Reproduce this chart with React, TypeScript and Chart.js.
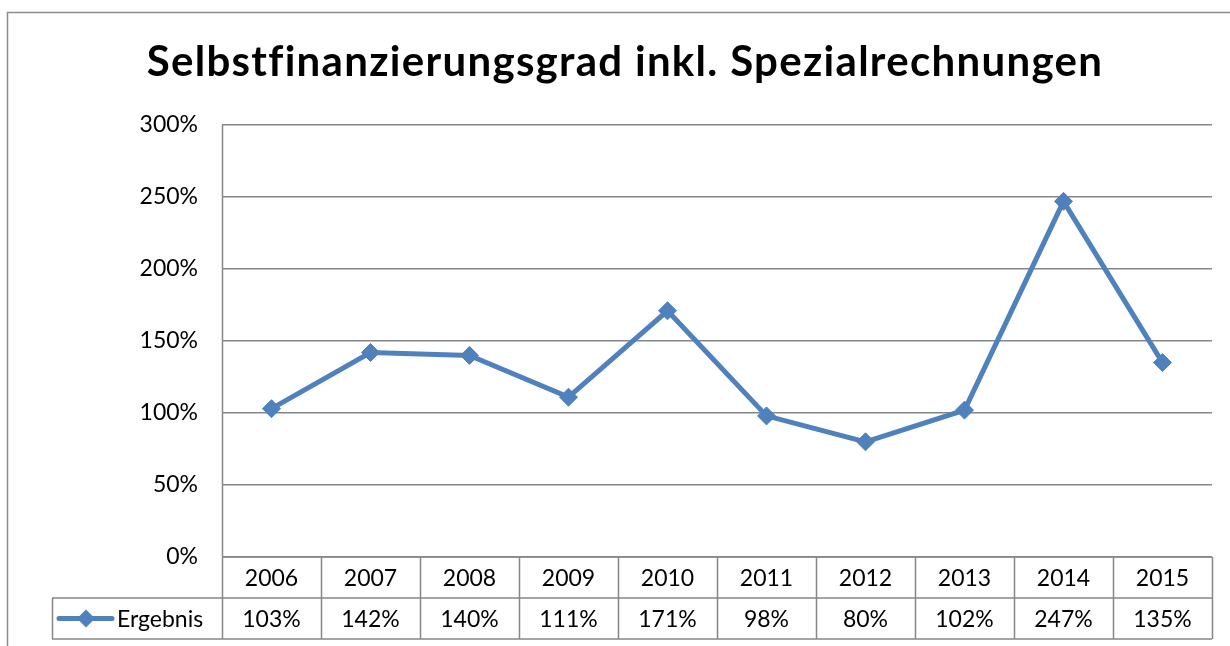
import React, { useEffect, useRef } from "react";
import { Chart, registerables } from "chart.js";

Chart.register(...registerables);

const TITLE = "Selbstfinanzierungsgrad inkl. Spezialrechnungen";
const SERIES_NAME = "Ergebnis";
const YEARS = ["2006", "2007", "2008", "2009", "2010", "2011", "2012", "2013", "2014", "2015"];
const VALUES = [103, 142, 140, 111, 171, 98, 80, 102, 247, 135];
const Y_MIN = 0;
const Y_MAX = 300;
const Y_STEP = 50;

const LINE_COLOR = "#4F81BD";
const GRID_COLOR = "#868686";
const FONT = "Lato, 'DejaVu Sans', sans-serif";

const framePlugin = {
  id: "frame",
  beforeDraw(chart: any) {
    const ctx = chart.ctx;
    ctx.save();
    ctx.fillStyle = "#ffffff";
    ctx.fillRect(0, 0, chart.width, chart.height);
    ctx.strokeStyle = "#8c8c8c";
    ctx.lineWidth = 1.5;
    ctx.beginPath();
    ctx.moveTo(7.5, chart.height);
    ctx.lineTo(7.5, 12.5);
    ctx.lineTo(chart.width, 12.5);
    ctx.stroke();
    // title
    ctx.fillStyle = "#000000";
    ctx.font = `bold 42px ${FONT}`;
    try {
      (ctx as any).letterSpacing = "1.3px";
    } catch (e) {}
    ctx.textAlign = "center";
    ctx.textBaseline = "alphabetic";
    ctx.fillText(TITLE, 625, 76);
    ctx.restore();
  },
};

const tablePlugin = {
  id: "dataTable",
  afterDatasetsDraw(chart: any) {
    const ctx = chart.ctx;
    const area = chart.chartArea;
    const xs = chart.scales.x;
    const n = YEARS.length;
    const w = (area.right - area.left) / n;
    const top = area.bottom;
    const row1 = top + 41;
    const row2 = row1 + 41;
    const legendLeft = 52;
    ctx.save();
    ctx.strokeStyle = GRID_COLOR;
    ctx.lineWidth = 1.5;
    ctx.beginPath();
    for (let i = 0; i <= n; i++) {
      const x = Math.round(area.left + i * w) + 0.5;
      ctx.moveTo(x, i === 0 ? area.top : top);
      ctx.lineTo(x, row2);
    }
    ctx.moveTo(area.left, top);
    ctx.lineTo(area.right, top);
    ctx.moveTo(legendLeft, row1);
    ctx.lineTo(area.right, row1);
    ctx.moveTo(legendLeft, row2);
    ctx.lineTo(area.right, row2);
    ctx.moveTo(legendLeft + 0.5, row1);
    ctx.lineTo(legendLeft + 0.5, row2);
    ctx.stroke();

    ctx.fillStyle = "#000000";
    ctx.font = `23px ${FONT}`;
    ctx.textAlign = "center";
    ctx.textBaseline = "middle";
    for (let i = 0; i < n; i++) {
      const cx = xs.getPixelForValue(i);
      ctx.fillText(YEARS[i], cx, (top + row1) / 2 + 1);
      ctx.fillText(VALUES[i] + "%", cx, (row1 + row2) / 2 + 1);
    }
    // legend
    const ly = (row1 + row2) / 2;
    ctx.strokeStyle = LINE_COLOR;
    ctx.lineWidth = 5;
    ctx.lineCap = "round";
    ctx.beginPath();
    ctx.moveTo(59, ly);
    ctx.lineTo(112, ly);
    ctx.stroke();
    ctx.fillStyle = LINE_COLOR;
    ctx.beginPath();
    ctx.moveTo(86, ly - 9);
    ctx.lineTo(95, ly);
    ctx.lineTo(86, ly + 9);
    ctx.lineTo(77, ly);
    ctx.closePath();
    ctx.fill();
    ctx.fillStyle = "#000000";
    ctx.textAlign = "left";
    ctx.fillText(SERIES_NAME, 117, ly + 1);
    ctx.restore();
  },
};

export default function App() {
  const ref = useRef<HTMLCanvasElement>(null);
  useEffect(() => {
    if (!ref.current) return;
    const chart = new Chart(ref.current, {
      type: "line",
      data: {
        labels: YEARS,
        datasets: [
          {
            label: SERIES_NAME,
            data: VALUES,
            borderColor: LINE_COLOR,
            backgroundColor: LINE_COLOR,
            borderWidth: 5,
            pointStyle: "rectRot",
            pointRadius: 9,
            pointBorderWidth: 1,
            pointBackgroundColor: LINE_COLOR,
            pointBorderColor: LINE_COLOR,
            tension: 0,
          },
        ],
      },
      options: {
        animation: false,
        responsive: false,
        devicePixelRatio: 1,
        layout: { padding: { top: 125, right: 18, bottom: 89, left: 0 } },
        plugins: {
          legend: { display: false },
          title: { display: false },
          tooltip: { enabled: false },
        },
        scales: {
          x: {
            type: "category",
            display: false,
            offset: true,
          },
          y: {
            min: Y_MIN,
            max: Y_MAX,
            afterFit: (scale: any) => {
              scale.width = 222;
            },
            ticks: {
              stepSize: Y_STEP,
              padding: 24,
              color: "#000000",
              font: { family: FONT, size: 23 },
              callback: (v: any) => v + "%",
            },
            grid: { color: GRID_COLOR, lineWidth: 1.5, drawTicks: false },
            border: { display: false },
          },
        },
      },
      plugins: [framePlugin, tablePlugin],
    });
    return () => chart.destroy();
  }, []);
  return (
    <div style={{ position: "fixed", left: 0, top: 0, width: 1230, height: 646 }}>
      <canvas ref={ref} width={1230} height={646} style={{ width: 1230, height: 646 }} />
    </div>
  );
}
